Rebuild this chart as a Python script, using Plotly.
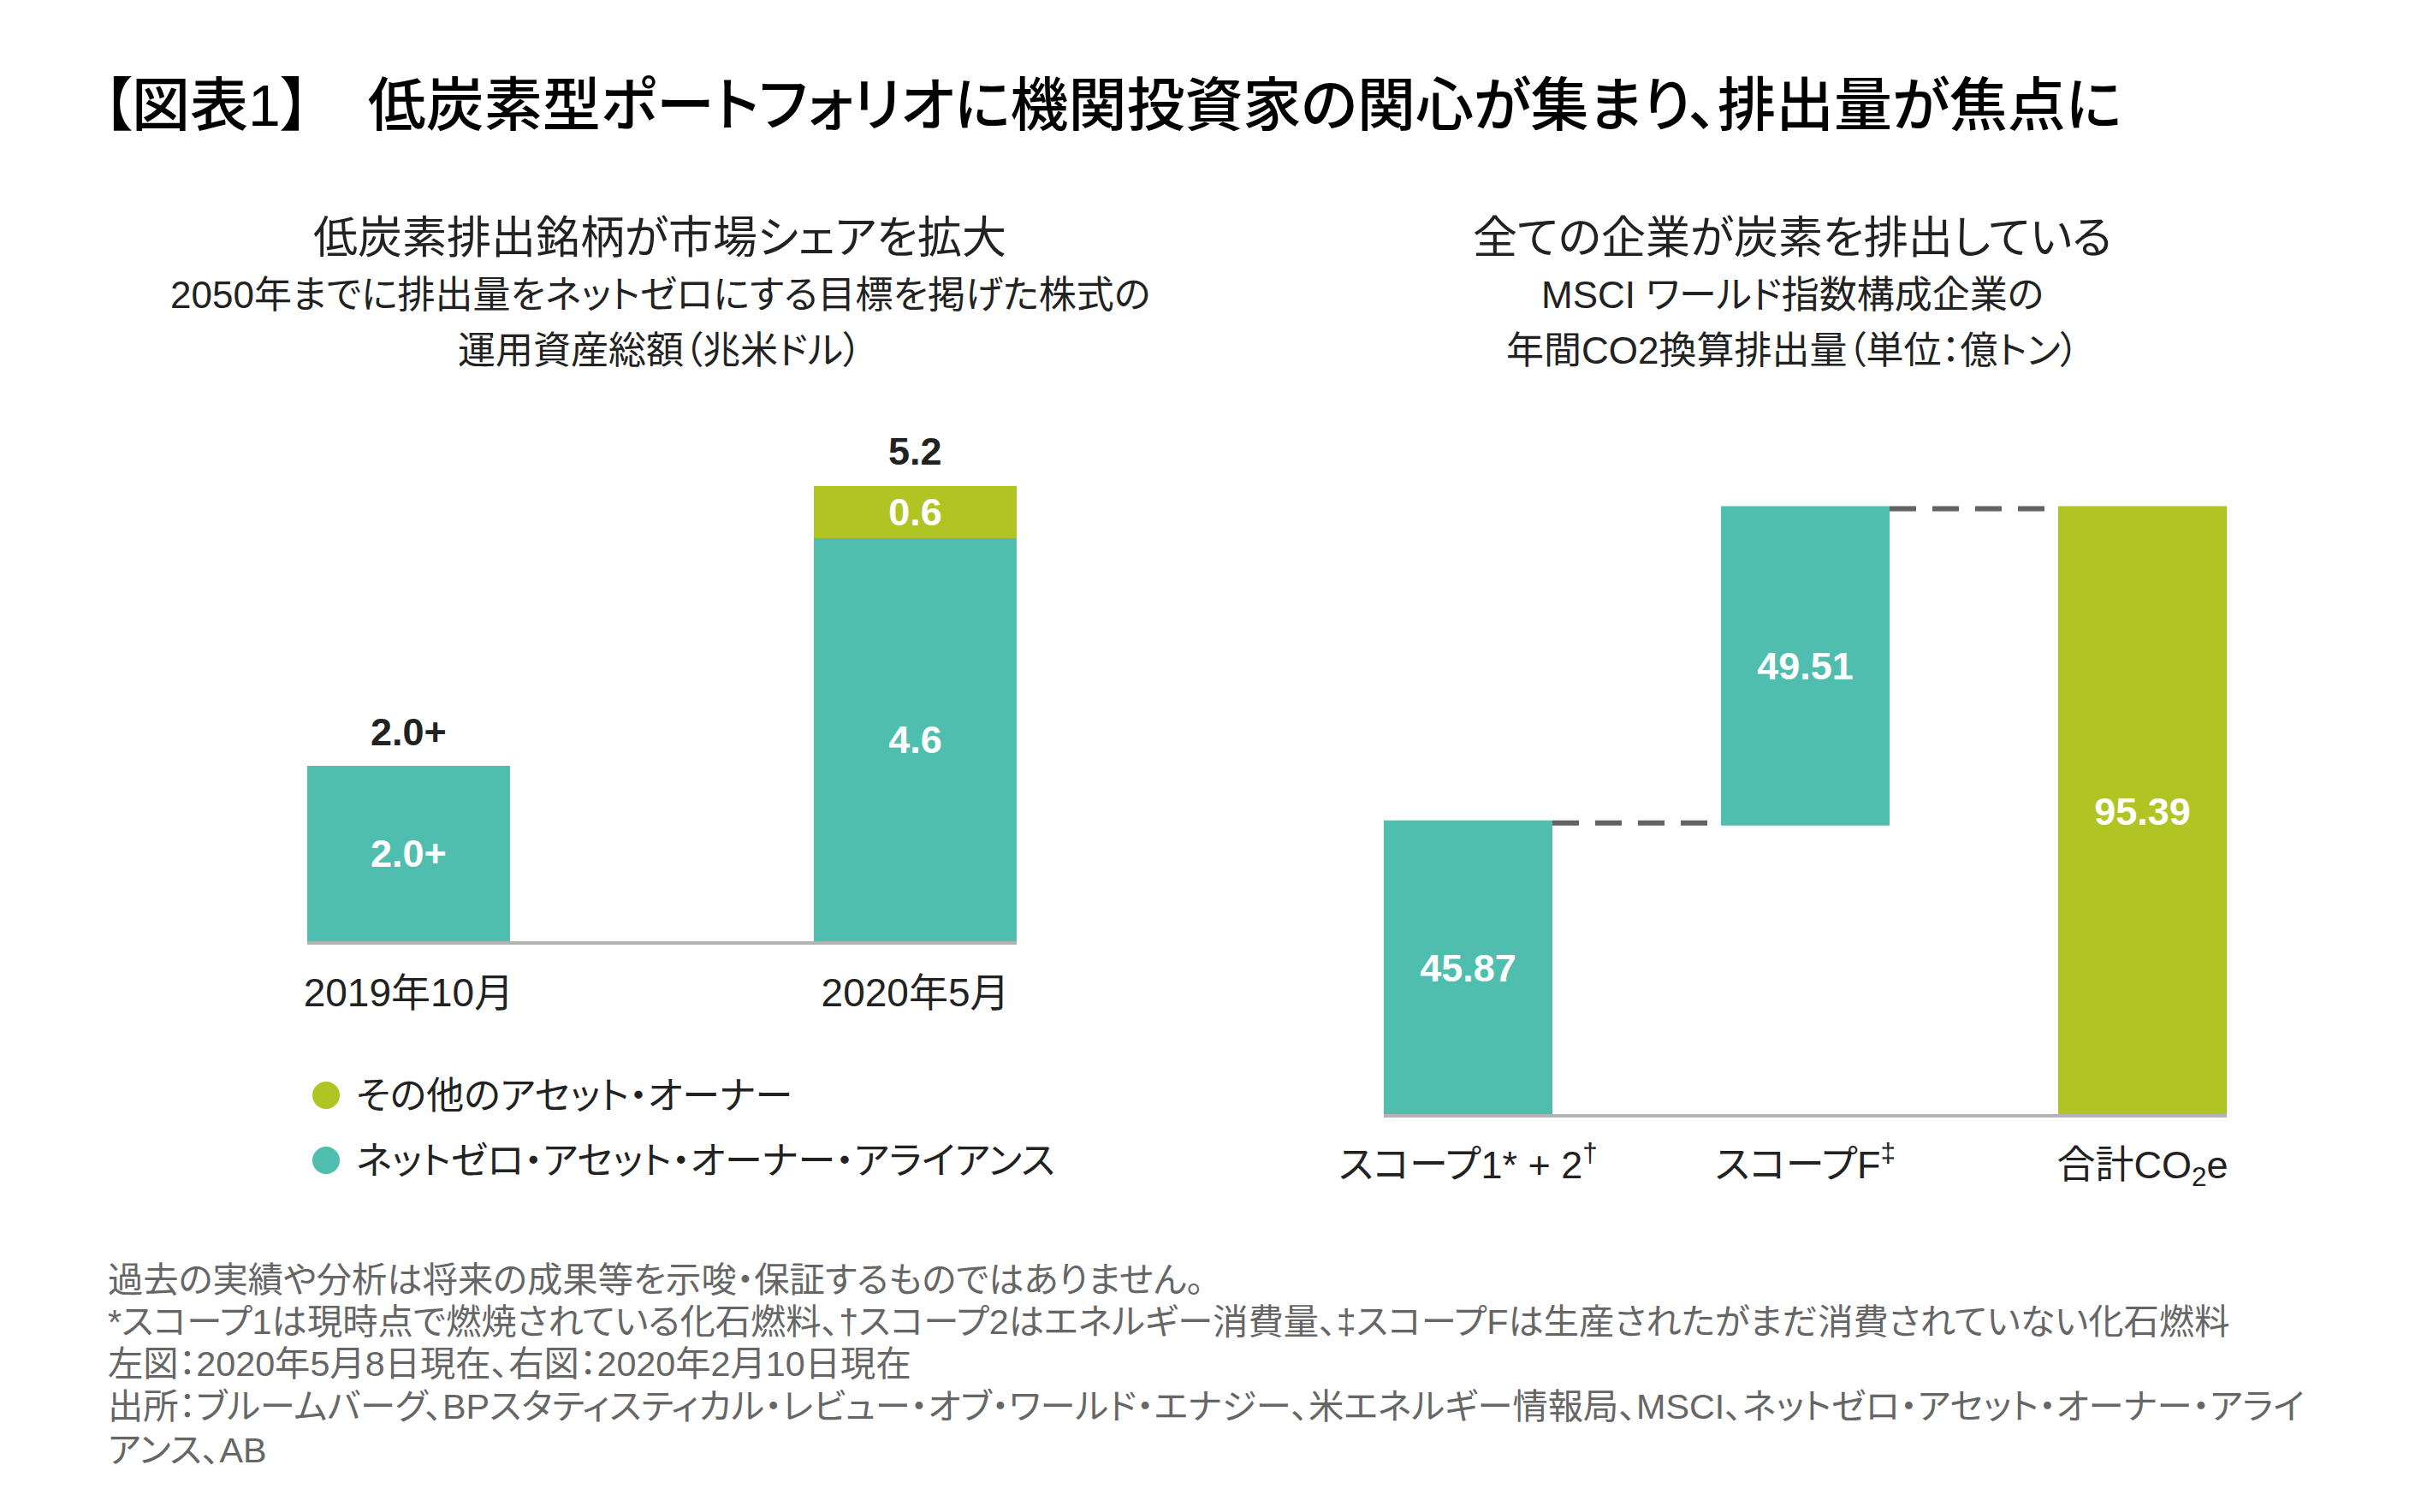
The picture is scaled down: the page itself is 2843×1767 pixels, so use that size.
import plotly.graph_objects as go

W, H = 2843, 1767

# ---------------- data ----------------
left_categories = ["2019年10月", "2020年5月"]
alliance_values = [2.0, 4.6]
alliance_labels = ["2.0+", "4.6"]
other_values = [None, 0.6]
other_labels = ["", "0.6"]
left_totals = [2.0, 5.2]
left_total_labels = ["2.0+", "5.2"]

right_categories = ["スコープ1* + 2†", "スコープF‡", "合計CO2e"]
right_ticktext = ["スコープ1* + 2<sup>†</sup>", "スコープF<sup>‡</sup>", "合計CO<sub>2</sub>e"]
right_values = [45.87, 49.51, 95.39]
right_measures = ["relative", "relative", "total"]
right_labels = ["45.87", "49.51", "95.39"]

legend_names = ["その他のアセット・オーナー", "ネットゼロ・アセット・オーナー・アライアンス"]

title_text = "【図表1】　低炭素型ポートフォリオに機関投資家の関心が集まり、排出量が焦点に"
left_sub = ["低炭素排出銘柄が市場シェアを拡大",
            "2050年までに排出量をネットゼロにする目標を掲げた株式の",
            "運用資産総額（兆米ドル）"]
right_sub = ["全ての企業が炭素を排出している",
             "MSCI ワールド指数構成企業の",
             "年間CO2換算排出量（単位：億トン）"]
footnotes = [
    "過去の実績や分析は将来の成果等を示唆・保証するものではありません。",
    "*スコープ1は現時点で燃焼されている化石燃料、†スコープ2はエネルギー消費量、‡スコープFは生産されたがまだ消費されていない化石燃料",
    "左図：2020年5月8日現在、右図：2020年2月10日現在",
    "出所：ブルームバーグ、BPスタティスティカル・レビュー・オブ・ワールド・エナジー、米エネルギー情報局、MSCI、ネットゼロ・アセット・オーナー・アライ",
    "アンス、AB",
]

# ---------------- style ----------------
TEAL = "#50BEAE"
GREEN = "#B0C423"
FONT = "Liberation Sans, Arial, Noto Sans CJK JP, sans-serif"
AXIS_GRAY = "#B3B3B3"


def jp(s):
    return '<span style="font-feature-settings:\'palt\'">' + s + '</span>'


def px_x(x):
    return x / W


def px_y(y):
    return 1 - y / H


fig = go.Figure()

# Left chart: stacked bars
fig.add_trace(go.Bar(
    x=left_categories, y=alliance_values, text=alliance_labels,
    width=0.4, marker=dict(color=TEAL, line=dict(width=0)),
    textposition="inside", insidetextanchor="middle", constraintext="none",
    textfont=dict(color="white", size=45, family=FONT, weight="bold"),
    xaxis="x", yaxis="y", showlegend=False, hoverinfo="skip",
))
fig.add_trace(go.Bar(
    x=left_categories, y=other_values, text=other_labels,
    width=0.4, marker=dict(color=GREEN, line=dict(width=0)),
    textposition="inside", insidetextanchor="middle", constraintext="none",
    textfont=dict(color="white", size=45, family=FONT, weight="bold"),
    xaxis="x", yaxis="y", showlegend=False, hoverinfo="skip",
))

# Right chart: waterfall
fig.add_trace(go.Waterfall(
    x=right_categories, y=right_values, measure=right_measures,
    text=right_labels, textinfo="text", width=0.5,
    textposition="inside", insidetextanchor="middle", constraintext="none",
    textfont=dict(color="white", size=45, family=FONT, weight="bold"),
    increasing=dict(marker=dict(color=TEAL, line=dict(width=0))),
    decreasing=dict(marker=dict(color=TEAL, line=dict(width=0))),
    totals=dict(marker=dict(color=GREEN, line=dict(width=0))),
    connector=dict(mode="between", line=dict(color="#626262", width=6, dash="31px,19px")),
    xaxis="x2", yaxis="y2", showlegend=False, hoverinfo="skip",
))

annotations = []
# totals above left bars
for cat, tot, lab in zip(left_categories, left_totals, left_total_labels):
    annotations.append(dict(
        x=cat, y=tot, xref="x", yref="y", text="<b>" + lab + "</b>",
        showarrow=False, yanchor="middle", yshift=40,
        font=dict(size=45, color="#222222", family=FONT),
    ))

# title
annotations.append(dict(
    x=px_x(118), y=px_y(123), xref="paper", yref="paper", xanchor="left", yanchor="middle",
    text=jp(title_text), showarrow=False,
    font=dict(size=68, color="#000000", family=FONT, weight=500),
))
# subtitles
sub_y = [278, 345, 410]
sub_sizes = [52, 44, 44]
for txt, yy, sz in zip(left_sub, sub_y, sub_sizes):
    annotations.append(dict(
        x=px_x(771), y=px_y(yy), xref="paper", yref="paper", xanchor="center", yanchor="middle",
        text=jp(txt), showarrow=False, font=dict(size=sz, color="#222222", family=FONT),
    ))
for txt, yy, sz in zip(right_sub, sub_y, sub_sizes):
    annotations.append(dict(
        x=px_x(2094), y=px_y(yy), xref="paper", yref="paper", xanchor="center", yanchor="middle",
        text=jp(txt), showarrow=False, font=dict(size=sz, color="#222222", family=FONT),
    ))

# legend (manual, with circle markers)
shapes = []
legend_colors = [GREEN, TEAL]
legend_y = [1280, 1356]
for name, col, yy in zip(legend_names, legend_colors, legend_y):
    r = 16
    shapes.append(dict(
        type="circle", xref="paper", yref="paper",
        x0=px_x(381 - r), x1=px_x(381 + r), y0=px_y(yy + r), y1=px_y(yy - r),
        fillcolor=col, line=dict(width=0),
    ))
    annotations.append(dict(
        x=px_x(414), y=px_y(yy), xref="paper", yref="paper", xanchor="left", yanchor="middle",
        text=jp(name), showarrow=False, font=dict(size=44, color="#222222", family=FONT),
    ))

# footnotes
foot_y = [1496, 1545, 1594, 1644, 1695]
for txt, yy in zip(footnotes, foot_y):
    annotations.append(dict(
        x=px_x(124), y=px_y(yy), xref="paper", yref="paper", xanchor="left", yanchor="middle",
        text=jp(txt), showarrow=False, font=dict(size=41.3, color="#666666", family=FONT),
    ))

fig.update_layout(
    width=W, height=H, autosize=False,
    margin=dict(l=0, r=0, t=0, b=0, autoexpand=False),
    paper_bgcolor="white", plot_bgcolor="white",
    barmode="stack",
    font=dict(family=FONT, color="#222222"),
    showlegend=False,
    xaxis=dict(
        domain=[px_x(359), px_x(1188)], range=[-0.2, 1.2], type="category",
        showline=True, linecolor=AXIS_GRAY, linewidth=4, showgrid=False, zeroline=False,
        ticks="", tickvals=left_categories, ticktext=[jp(c) for c in left_categories],
        tickfont=dict(size=46, color="#222222", family=FONT), ticklabelstandoff=17,
        fixedrange=True, automargin=False,
    ),
    yaxis=dict(
        domain=[1 - 1100 / H, 1 - 486 / H], range=[0, 6],
        visible=False, fixedrange=True,
    ),
    xaxis2=dict(
        domain=[px_x(1617), px_x(2602)], range=[-0.25, 2.25], type="category",
        showline=True, linecolor=AXIS_GRAY, linewidth=4, showgrid=False, zeroline=False,
        ticks="", tickvals=right_categories, ticktext=[jp(t) for t in right_ticktext],
        tickfont=dict(size=45, color="#222222", family=FONT), ticklabelstandoff=17,
        anchor="y2", fixedrange=True, automargin=False,
    ),
    yaxis2=dict(
        domain=[1 - 1302 / H, 1 - 486 / H], range=[0, 110],
        visible=False, anchor="x2", fixedrange=True,
    ),
    annotations=annotations,
    shapes=shapes,
)

fig.write_html(
    "out.html",
    config={"responsive": False, "displayModeBar": False},
    post_script="document.documentElement.style.margin='0';document.body.style.margin='0';document.body.style.overflow='hidden';",
)
